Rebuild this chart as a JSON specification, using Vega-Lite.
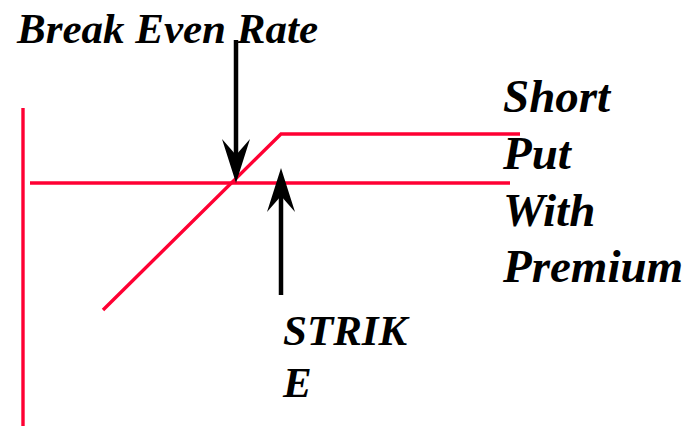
{
  "$schema": "https://vega.github.io/schema/vega-lite/v6.json",
  "width": 693,
  "height": 426,
  "autosize": {"type": "none"},
  "padding": 0,
  "background": "white",
  "config": {"view": {"stroke": null}},
  "datasets": {
    "redlines": [
      {"seg": "axis", "o": 1, "x": 23, "y": 108},
      {"seg": "axis", "o": 2, "x": 23, "y": 426},
      {"seg": "zero", "o": 1, "x": 30, "y": 183},
      {"seg": "zero", "o": 2, "x": 510, "y": 183},
      {"seg": "payoff", "o": 1, "x": 103, "y": 310},
      {"seg": "payoff", "o": 2, "x": 281, "y": 134},
      {"seg": "payoff", "o": 3, "x": 520, "y": 134}
    ],
    "shafts": [
      {"dir": "down", "x": 236, "y": 40, "y2": 158},
      {"dir": "up", "x": 281, "y": 295, "y2": 195}
    ],
    "heads": [
      {"dir": "down", "x": 236, "y": 161},
      {"dir": "up", "x": 281, "y": 190}
    ],
    "labels": [
      {"label": "Break Even Rate", "x": 17, "y": 43, "grp": "a"},
      {"label": "Short", "x": 503, "y": 112, "grp": "b"},
      {"label": "Put", "x": 503, "y": 169, "grp": "b"},
      {"label": "With", "x": 503, "y": 226, "grp": "b"},
      {"label": "Premium", "x": 503, "y": 282, "grp": "b"},
      {"label": "STRIK", "x": 283, "y": 345, "grp": "a"},
      {"label": "E", "x": 283, "y": 397, "grp": "a"}
    ]
  },
  "layer": [
    {
      "data": {"name": "redlines"},
      "mark": {"type": "line", "color": "#ff0033", "strokeWidth": 3.4, "clip": false},
      "encoding": {
        "x": {"field": "x", "type": "quantitative", "scale": {"domain": [0, 693], "nice": false, "zero": false}, "axis": null},
        "y": {"field": "y", "type": "quantitative", "scale": {"domain": [426, 0], "nice": false, "zero": false}, "axis": null},
        "detail": {"field": "seg"},
        "order": {"field": "o"}
      }
    },
    {
      "data": {"name": "shafts"},
      "mark": {"type": "rule", "color": "black", "strokeWidth": 4.5},
      "encoding": {
        "x": {"field": "x", "type": "quantitative"},
        "y": {"field": "y", "type": "quantitative"},
        "y2": {"field": "y2"}
      }
    },
    {
      "data": {"name": "heads"},
      "mark": {"type": "point", "filled": true, "color": "black", "opacity": 1, "size": 784, "strokeWidth": 0},
      "encoding": {
        "x": {"field": "x", "type": "quantitative"},
        "y": {"field": "y", "type": "quantitative"},
        "shape": {
          "field": "dir",
          "type": "nominal",
          "scale": {"domain": ["down", "up"], "range": ["M0,1.57L-1,-1.57L0,-0.43L1,-1.57Z", "M0,-1.57L-1,1.57L0,0.43L1,1.57Z"]},
          "legend": null
        }
      }
    },
    {
      "data": {"name": "labels"},
      "mark": {"type": "text", "font": "Liberation Serif", "fontStyle": "italic", "fontWeight": "bold", "align": "left", "baseline": "alphabetic", "color": "black"},
      "encoding": {
        "x": {"field": "x", "type": "quantitative"},
        "y": {"field": "y", "type": "quantitative"},
        "text": {"field": "label"},
        "size": {"field": "grp", "type": "nominal", "scale": {"domain": ["a", "b"], "range": [43, 47]}, "legend": null}
      }
    }
  ]
}
